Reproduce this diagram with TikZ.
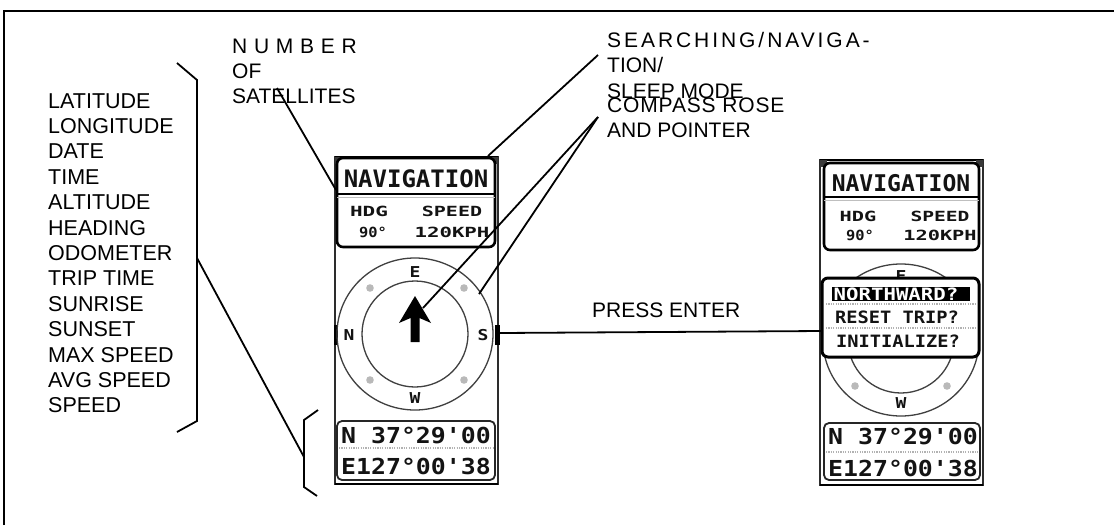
\documentclass[tikz,border=0pt]{standalone}
\usepackage{fontspec}
\setmainfont{Liberation Sans}
\newfontfamily\lcd{DejaVu Sans Mono}
\newfontfamily\spacedA[LetterSpace=32]{Liberation Sans}
\newfontfamily\spacedB[LetterSpace=14]{Liberation Sans}
\newfontfamily\spacedC[LetterSpace=4]{Liberation Sans}
\tikzset{
  lbl/.style={font=\fontsize{21}{25}\selectfont, anchor=base west, inner sep=0pt},
  conn/.style={line width=1.8pt, draw=black},
  devframe/.style={draw=gray!35!black, line width=2pt, fill=white},
  panelbox/.style={draw=black, line width=2.6pt, rounded corners=6pt, fill=white},
  lowbox/.style={draw=gray!30!black, line width=1.8pt, rounded corners=5pt, fill=white},
  menubox/.style={draw=black, line width=3pt, rounded corners=6pt, fill=white},
  lcdtxt/.style={font=\lcd\bfseries, inner sep=0pt, text=gray!15!black},
  ring/.style={draw=gray!50!black, line width=1.3pt},
  dotline/.style={draw=gray!60, line width=1.2pt, dash pattern=on 1.2pt off 1.2pt},
  corner/.style={fill=gray!45!black},
}
\begin{document}
\begin{tikzpicture}[x=1pt,y=-1pt]
\useasboundingbox (0,0) rectangle (1114,525);
\draw[line width=1.5pt] (4,525) -- (4,11) -- (1114,11);

% ---------- labels ----------
\node[lbl] (num) at (232,53) {\spacedA NUMBER};
\node[lbl] (of) at (232,78) {OF};
\node[lbl] (sat) at (232,103) {SATELLITES};
\node[lbl] (search) at (607,47) {\spacedB SEARCHING/NAVIGA-};
\node[lbl] (tion) at (607,72) {TION/};
\node[lbl] (sleep) at (607,98) {SLEEP MODE};
\node[lbl] (compass) at (607,112) {\spacedC COMPASS ROSE};
\node[lbl] (andp) at (607,137) {AND POINTER};
\node[lbl] (press) at (592,317) {PRESS ENTER};
\node[lbl, anchor=north west, align=left, font=\fontsize{21.5}{25.4}\selectfont] (list) at (48,93.2)
 {LATITUDE\\LONGITUDE\\DATE\\TIME\\ALTITUDE\\HEADING\\ODOMETER\\TRIP TIME\\SUNRISE\\SUNSET\\MAX SPEED\\AVG SPEED\\SPEED};

% ---------- brackets ----------
\draw[conn] (177,63) -- (197,80) -- (197,421) -- (177,432);
\draw[conn] (318,410) -- (304,420) -- (304,487) -- (317,496);

% ---------- left device ----------
\begin{scope}[shift={(335,157)}]
 \draw[devframe] (0,0) rectangle (163,327);
 \draw[black, line width=2.8pt] (0,327) -- (163,327);
 \draw[black, line width=2.8pt] (0,0) -- (163,0);
 \fill[black] (-1.5,168) rectangle (3,188);
 \fill[black] (160,168) rectangle (164.5,188);
 \fill[corner] (0,0) rectangle (7,7);
 \fill[corner] (156,0) rectangle (163,7);
 \draw[panelbox] (2,1) rectangle (160,90);
 \draw[black, line width=1.4pt] (2,37) -- (160,37);
 \draw[gray!50, line width=1pt] (2,40) -- (160,40);
 \node[lcdtxt] (Lnav) at (81,22) {\fontsize{24}{24}\selectfont NAVIGATION};
 \node[lcdtxt] (Lhdg) at (34,54) {\scalebox{1.5}[1]{\fontsize{14}{14}\selectfont HDG}};
 \node[lcdtxt] (Lspd) at (117,54) {\scalebox{1.43}[1]{\fontsize{14}{14}\selectfont SPEED}};
 \node[lcdtxt] (Ldeg) at (38,75) {\scalebox{1.1}[1]{\fontsize{14}{14}\selectfont 90°}};
 \node[lcdtxt] (Lkph) at (117,75) {\scalebox{1.48}[1]{\fontsize{14}{14}\selectfont 120KPH}};
 % compass
 \coordinate (Lc) at (80,177);
 \draw[ring] (Lc) ellipse[x radius=78pt, y radius=76pt];
 \draw[ring] (Lc) circle[radius=53pt];
 \foreach \p in {(35,131),(129,131),(35,223),(129,223)} \fill[gray!55] \p circle[radius=3.8pt];
 \node[lcdtxt] (LE) at (80,115) {\scalebox{1.2}[1]{\fontsize{15}{15}\selectfont E}};
 \node[lcdtxt] (LS) at (148,178) {\scalebox{1.2}[1]{\fontsize{15}{15}\selectfont S}};
 \node[lcdtxt] (LN) at (14,178) {\scalebox{1.2}[1]{\fontsize{15}{15}\selectfont N}};
 \node[lcdtxt] (LW) at (80,241) {\scalebox{1.2}[1]{\fontsize{15}{15}\selectfont W}};
 \fill[black] (80,139) -- (96,166) -- (84.5,161) -- (84.5,185) -- (75.5,185) -- (75.5,161) -- (64,166) -- cycle;
 % bottom panel
 \draw[lowbox] (2,264) rectangle (160,323);
 \draw[dotline] (4,291) -- (158,291);
 \node[lcdtxt] (Llat) at (81,279) {\scalebox{1.13}[1]{\fontsize{22}{22}\selectfont N 37°29'00}};
 \node[lcdtxt] (Llon) at (81,309) {\scalebox{1.13}[1]{\fontsize{22}{22}\selectfont E127°00'38}};
\end{scope}

% ---------- right device ----------
\begin{scope}[shift={(820,160)}]
 \draw[devframe] (0,0) rectangle (163,325);
 \draw[black, line width=2.8pt] (0,325) -- (163,325);
 \draw[black, line width=2.8pt] (0,0) -- (163,0);
 \fill[corner] (0,0) rectangle (7,7);
 \fill[corner] (156,0) rectangle (163,7);
 \begin{scope}
  \clip (0,0) rectangle (163,325);
  \draw[ring] (81,180) ellipse[x radius=78pt, y radius=76pt];
  \draw[ring] (81,180) circle[radius=53pt];
 \end{scope}
 \foreach \p in {(35,226),(127,226)} \fill[gray!55] \p circle[radius=3.8pt];
 \node[lcdtxt] (RE) at (81,116) {\scalebox{1.2}[1]{\fontsize{15}{15}\selectfont E}};
 \node[lcdtxt] (RW) at (81,243) {\scalebox{1.2}[1]{\fontsize{15}{15}\selectfont W}};
 \draw[panelbox] (4,3) rectangle (159,90);
 \draw[black, line width=1.4pt] (4,37) -- (159,37);
 \draw[gray!50, line width=1pt] (4,40) -- (159,40);
 \node[lcdtxt] (Rnav) at (81,23) {\fontsize{23}{23}\selectfont NAVIGATION};
 \node[lcdtxt] (Rhdg) at (38,56) {\scalebox{1.45}[1]{\fontsize{14}{14}\selectfont HDG}};
 \node[lcdtxt] (Rspd) at (120,56) {\scalebox{1.4}[1]{\fontsize{14}{14}\selectfont SPEED}};
 \node[lcdtxt] (Rdeg) at (40,75) {\scalebox{1.1}[1]{\fontsize{14}{14}\selectfont 90°}};
 \node[lcdtxt] (Rkph) at (120,75) {\scalebox{1.45}[1]{\fontsize{14}{14}\selectfont 120KPH}};
 % menu
 \draw[menubox] (2,118) rectangle (159,197);
 \fill[black] (12,127) rectangle (150,141);
 \node[lcdtxt, text=white] (Rnorth) at (76,134) {\scalebox{1.22}[1]{\fontsize{17}{17}\selectfont NORTHWARD?}};
 \draw[dotline] (6,144) -- (155,144);
 \node[lcdtxt] (Rreset) at (77,157) {\scalebox{1.1}[1]{\fontsize{17}{17}\selectfont RESET TRIP?}};
 \draw[dotline] (6,168) -- (155,168);
 \node[lcdtxt] (Rinit) at (78,181) {\scalebox{1.1}[1]{\fontsize{17}{17}\selectfont INITIALIZE?}};
 % bottom panel
 \draw[lowbox] (4,263) rectangle (160,320);
 \draw[dotline] (6,292) -- (158,292);
 \node[lcdtxt] (Rlat) at (83,277) {\scalebox{1.13}[1]{\fontsize{22}{22}\selectfont N 37°29'00}};
 \node[lcdtxt] (Rlon) at (83,308) {\scalebox{1.13}[1]{\fontsize{22}{22}\selectfont E127°00'38}};
\end{scope}

% ---------- connector end points ----------
\coordinate (satA) at (277,88);
\coordinate (Lleft) at (336,190);
\coordinate (srchA) at (598,55);
\coordinate (Ltr) at (488,156);
\coordinate (cmpA) at (598,117);
\coordinate (Larrow) at (423,308);
\coordinate (Lring) at (479,294);
\coordinate (brA) at (197,258);
\coordinate (brB) at (304,457);
\coordinate (Lout) at (500,333);
\coordinate (Rin) at (822,331);

\draw[conn] (satA) -- (Lleft);
\draw[conn] (srchA) -- (Ltr);
\draw[conn] (cmpA) -- (Larrow);
\draw[conn] (cmpA) -- (Lring);
\draw[conn] (brA) -- (brB);
\draw[conn] (Lout) -- (Rin);
\end{tikzpicture}
\end{document}
